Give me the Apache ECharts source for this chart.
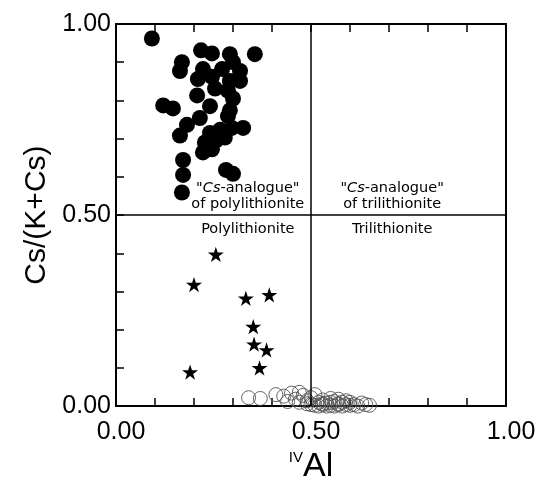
<!DOCTYPE html>
<html><head><meta charset="utf-8">
<script src="https://cdn.jsdelivr.net/npm/echarts@6/dist/echarts.min.js"></script>
<style>html,body{margin:0;padding:0;background:#fff}#c{width:542px;height:489px}</style>
</head><body><div id="c"></div>
<script>
// ---- data ----
const xTickLabels = ['0.00', '0.50', '1.00'];
const yTickLabels = ['0.00', '0.50', '1.00'];
const xName = '{sup|IV}{big|Al}';
const yName = 'Cs/(K+Cs)';
// "Cs-analogue" of polylithionite (filled circles): [IVAl, Cs/(K+Cs)]
const csAnalogueX = [0.092,0.218,0.246,0.292,0.356,0.300,0.169,0.164,0.223,0.272,0.318,0.210,0.246,0.292,0.318,0.254,0.287,0.300,0.208,0.121,0.146,0.241,0.292,0.287,0.215,0.182,0.164,0.241,0.267,0.297,0.326,0.228,0.256,0.279,0.223,0.246,0.172,0.172,0.282,0.300,0.169];
const csAnalogueY = [0.962,0.931,0.923,0.921,0.921,0.900,0.900,0.877,0.882,0.882,0.877,0.856,0.862,0.851,0.851,0.831,0.826,0.805,0.813,0.787,0.779,0.785,0.774,0.759,0.754,0.736,0.708,0.715,0.723,0.728,0.728,0.690,0.695,0.703,0.664,0.672,0.644,0.605,0.618,0.608,0.559];
// polylithionite (stars)
const polyX = [0.256,0.200,0.333,0.393,0.352,0.354,0.386,0.368,0.190];
const polyY = [0.397,0.318,0.282,0.291,0.208,0.162,0.147,0.100,0.089];
// trilithionite (open circles)
const triX = [0.34,0.37,0.41,0.43,0.45,0.46,0.47,0.48,0.49,0.50,0.50,0.51,0.52,0.52,0.53,0.53,0.54,0.54,0.55,0.55,0.56,0.56,0.57,0.57,0.58,0.58,0.59,0.60,0.60,0.61,0.62,0.63,0.64,0.65,0.51,0.53,0.55,0.57,0.59,0.49,0.44,0.47];
const triY = [0.022,0.020,0.030,0.026,0.034,0.018,0.010,0.028,0.014,0.004,0.022,0.030,0.010,0.000,0.016,0.004,0.008,0.000,0.020,0.002,0.012,0.000,0.004,0.018,0.000,0.010,0.014,0.002,0.010,0.004,0.000,0.008,0.004,0.002,0.002,0.006,0.010,0.006,0.004,0.006,0.012,0.036];
// region annotations
const regionX = [0.338, 0.708, 0.338, 0.708];
const regionY = [0.548, 0.548, 0.464, 0.464];
const regionText = ['"{i|Cs}-analogue"\nof polylithionite', '"{i|Cs}-analogue"\nof trilithionite', 'Polylithionite', 'Trilithionite'];
const dividerX = 0.5, dividerY = 0.5;

// ---- chart ----
const zip = (a, b) => a.map((v, i) => [v, b[i]]);
const tickFmt = labels => v => {
  const k = Math.round(v / 0.5);
  return Math.abs(v - k * 0.5) < 1e-6 ? labels[k] : '';
};
const FONT = 'Liberation Sans';
const axisCommon = {
  type: 'value', min: 0, max: 1, interval: 0.1,
  axisLine: { show: true, onZero: false, lineStyle: { color: '#000', width: 2 } },
  axisTick: { show: true, inside: true, length: 8, lineStyle: { color: '#000', width: 1.5 } },
  splitLine: { show: false }
};
const STAR = 'path://M0,-1L0.2245,-0.309L0.951,-0.309L0.363,0.118L0.588,0.809L0,0.382L-0.588,0.809L-0.363,0.118L-0.951,-0.309L-0.2245,-0.309Z';

const chart = echarts.init(document.getElementById('c'), null, { renderer: 'canvas' });
chart.setOption({
  animation: false,
  backgroundColor: '#fff',
  grid: { left: 116, top: 24, width: 390, height: 390 },
  xAxis: [
    Object.assign({}, axisCommon, {
      position: 'bottom',
      axisLabel: { formatter: tickFmt(xTickLabels), fontSize: 25, color: '#000', margin: 14, fontFamily: FONT, padding: [0, 0, 0, 10] },
      name: xName, nameLocation: 'middle', nameGap: 40,
      nameTextStyle: { rich: {
        sup: { fontSize: 15, fontFamily: FONT, color: '#000', verticalAlign: 'top', padding: [0, 0, 16, 0] },
        big: { fontSize: 34, fontFamily: FONT, color: '#000' }
      } }
    }),
    Object.assign({}, axisCommon, { position: 'top', axisLabel: { show: false } })
  ],
  yAxis: [
    Object.assign({}, axisCommon, {
      position: 'left',
      axisLabel: { formatter: tickFmt(yTickLabels), fontSize: 25, color: '#000', margin: 5, fontFamily: FONT },
      name: yName, nameLocation: 'middle', nameGap: 64, nameRotate: 90,
      nameTextStyle: { fontSize: 30, color: '#000', fontFamily: FONT }
    }),
    Object.assign({}, axisCommon, { position: 'right', axisLabel: { show: false }, axisTick: { show: false } })
  ],
  series: [
    {
      type: 'scatter', symbol: 'circle', symbolSize: 14, z: 2,
      itemStyle: { color: 'rgba(0,0,0,0)', borderColor: '#555', borderWidth: 0.9, opacity: 1 },
      data: zip(triX, triY),
      markLine: {
        silent: true, symbol: 'none', label: { show: false },
        lineStyle: { color: '#000', width: 1.5, type: 'solid', opacity: 1 },
        data: [{ xAxis: dividerX }, { yAxis: dividerY }]
      }
    },
    {
      type: 'scatter', symbol: 'circle', symbolSize: 16, z: 3,
      itemStyle: { color: '#000', opacity: 1 },
      data: zip(csAnalogueX, csAnalogueY)
    },
    {
      type: 'scatter', symbol: STAR, symbolKeepAspect: true, symbolSize: 16, z: 3,
      itemStyle: { color: '#000', opacity: 1 },
      data: zip(polyX, polyY)
    },
    {
      type: 'scatter', symbolSize: 0, z: 4, silent: true,
      itemStyle: { opacity: 1 },
      data: regionX.map((x, i) => ({ value: [x, regionY[i]], name: regionText[i] })),
      label: {
        show: true, position: 'inside', formatter: p => p.name, opacity: 1,
        fontFamily: 'DejaVu Sans', fontSize: 14.5, color: '#000', lineHeight: 16, align: 'center',
        rich: { i: { fontStyle: 'italic', fontFamily: 'DejaVu Sans', fontSize: 14.5, color: '#000' } }
      }
    }
  ]
});
</script></body></html>
